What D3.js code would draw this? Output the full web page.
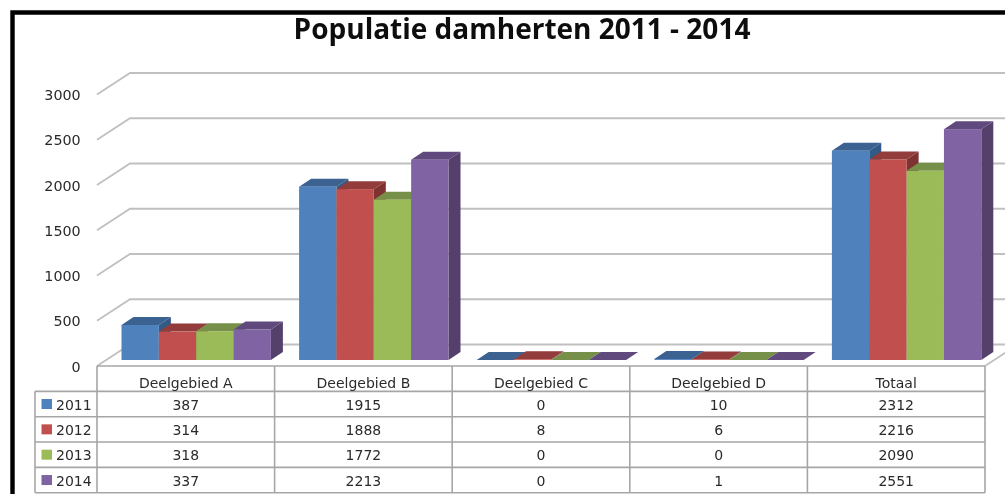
<!DOCTYPE html>
<html><head><meta charset="utf-8">
<script src="https://cdn.jsdelivr.net/npm/d3@7"></script>
<style>html,body{margin:0;padding:0;background:#fff;overflow:hidden}svg{display:block}
text{font-family:"DejaVu Sans",sans-serif}
text.title{font-family:"Open Sans",sans-serif}</style></head><body>
<svg id="c" width="1005" height="494"></svg>
<script>
const titleText = "Populatie damherten 2011 - 2014";
const categories = ["Deelgebied A","Deelgebied B","Deelgebied C","Deelgebied D","Totaal"];
const years = ["2011","2012","2013","2014"];
const values2011 = [387,1915,0,10,2312];
const values2012 = [314,1888,8,6,2216];
const values2013 = [318,1772,0,0,2090];
const values2014 = [337,2213,0,1,2551];
const yTicks = [0,500,1000,1500,2000,2500,3000];
const fronts = ["#4f81bd","#c0504d","#9bbb59","#8064a2"];
const tops   = ["#3a6291","#923c3a","#76904a","#60497c"];
const sides  = ["#335a86","#7f3230","#677f3d","#553f6c"];
const allSeries = [values2011,values2012,values2013,values2014];

const svg = d3.select("#c");
const defs = svg.append("defs");
defs.append("filter").attr("id","soft").attr("x",0).attr("y",0).attr("width",1005).attr("height",494)
  .attr("filterUnits","userSpaceOnUse")
  .append("feGaussianBlur").attr("stdDeviation",0.5);
const root = svg.append("g").attr("filter","url(#soft)");
root.append("rect").attr("width",1005).attr("height",494).attr("fill","#fff");
const gridCol = "#c0c0c0", tableCol = "#a6a6a6", textCol = "#2a2a2a";

const wallDx = 33, wallDy = -21.5;
const y = d3.scaleLinear().domain([0,3000]).range([366,94.5]);
const xCat = d3.scaleBand().domain(categories).range([97,985]);
const xBar = d3.scaleBand().domain(years).range([24.5,24.5+149.4]);
const barDx = 12, barDy = -8, barFloor = -6;

const grid = root.append("g");
yTicks.forEach(t=>{
  const p = d3.path();
  p.moveTo(97,y(t)); p.lineTo(97+wallDx,y(t)+wallDy); p.lineTo(1006,y(t)+wallDy);
  grid.append("path").attr("d",p.toString()).attr("fill","none").attr("stroke",gridCol).attr("stroke-width",1.8);
});
grid.append("line").attr("x1",985).attr("y1",y(0)).attr("x2",1006).attr("y2",y(0)-13.7).attr("stroke",gridCol).attr("stroke-width",1.8);

const yLab = root.append("g");
yTicks.forEach(t=>{
  yLab.append("text").attr("x",80.7).attr("y",y(t)+5.5).attr("text-anchor","end")
    .attr("font-size",14.3).attr("fill",textCol).text(t);
});

const poly = pts => pts.map(p=>p.join(",")).join(" ");
categories.forEach((cat,ci)=>{
  const g = root.append("g");
  years.forEach((yr,si)=>{
    const v = allSeries[si][ci];
    const x0 = xCat(cat)+xBar(yr), w = xBar.bandwidth();
    const b = y(0)+barFloor, t = y(v)+barFloor;
    g.append("polygon").attr("points",poly([[x0+w,b],[x0+w+barDx,b+barDy],[x0+w+barDx,t+barDy],[x0+w,t]])).attr("fill",sides[si]);
    g.append("polygon").attr("points",poly([[x0,t],[x0+barDx,t+barDy],[x0+w+barDx,t+barDy],[x0+w,t]])).attr("fill",tops[si]);
    g.append("rect").attr("x",x0).attr("y",t).attr("width",w).attr("height",Math.max(b-t,0)).attr("fill",fronts[si]);
  });
});

const rowY = d3.scaleBand().domain(["head",...years]).range([366,492.7]);
const tbl = root.append("g");
const tl = (x1,y1,x2,y2)=>tbl.append("line").attr("x1",x1).attr("y1",y1).attr("x2",x2).attr("y2",y2)
  .attr("stroke",tableCol).attr("stroke-width",1.6);
tl(97,366,985,366);
["head",...years].forEach(r=>{ tl(35,rowY(r)+rowY.bandwidth(),985,rowY(r)+rowY.bandwidth()); });
tl(35,rowY("2011"),35,492.7);
tl(97,366,97,492.7);
categories.forEach(c=>tl(xCat(c)+xCat.bandwidth(),366,xCat(c)+xCat.bandwidth(),492.7));
const cellText=(x,r,s,anchor)=>tbl.append("text").attr("x",x).attr("y",rowY(r)+rowY.bandwidth()/2+(r==="head"?9:5.5))
  .attr("text-anchor",anchor||"middle").attr("font-size",14).attr("fill",textCol).text(s);
categories.forEach(c=>cellText(xCat(c)+xCat.bandwidth()/2,"head",c));
years.forEach((yr,si)=>{
  const cy = rowY(yr)+rowY.bandwidth()/2;
  tbl.append("rect").attr("x",41.5).attr("y",cy-5).attr("width",10.5).attr("height",10).attr("fill",fronts[si]);
  cellText(56,yr,yr,"start");
  categories.forEach((c,ci)=>cellText(xCat(c)+xCat.bandwidth()/2,yr,allSeries[si][ci]));
});

root.append("text").attr("class","title").attr("x",522).attr("y",39).attr("text-anchor","middle")
  .attr("font-size",28).attr("font-weight",700).attr("fill","#111").text(titleText);

root.append("path").attr("d","M12.5,500V12.5H1010").attr("fill","none").attr("stroke","#000").attr("stroke-width",4.4);
</script></body></html>
